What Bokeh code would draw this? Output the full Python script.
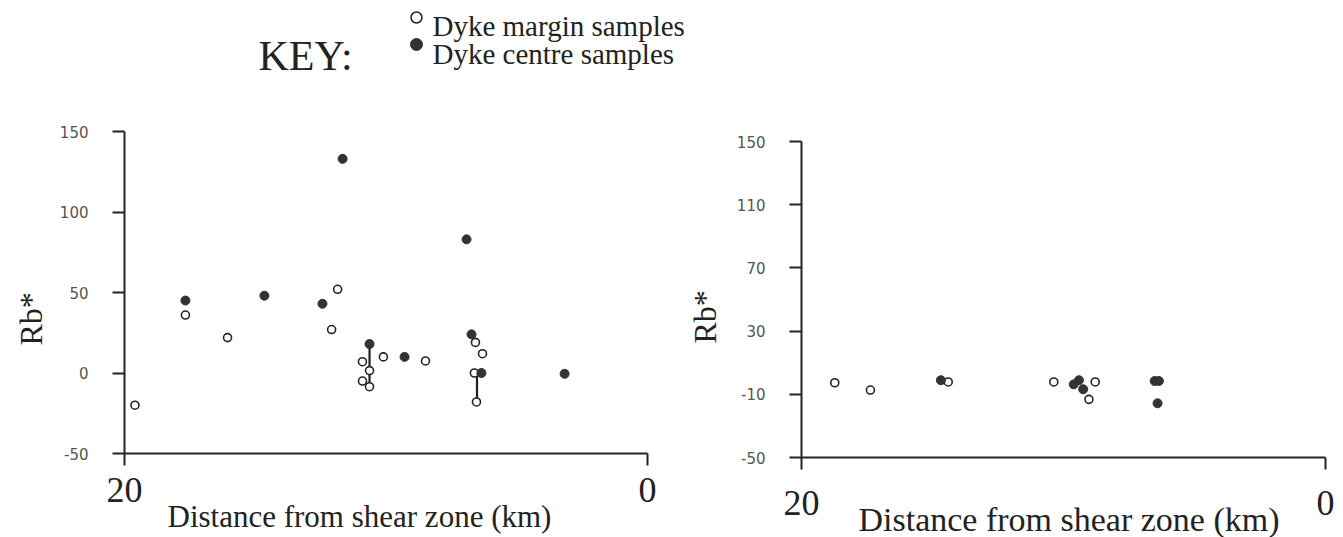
from bokeh.plotting import figure
from bokeh.models import Range1d, FixedTicker, Title
from bokeh.layouts import column, row
from bokeh.embed import file_html
from bokeh.resources import INLINE
from bokeh.core.properties import value

# ---------------- data ----------------
x_ticks = [20, 0]
left_y_ticks = [-50, 0, 50, 100, 150]
right_y_ticks = [-50, -10, 30, 70, 110, 150]

# left panel
left_margin_dist = [19.6, 17.67, 16.06, 11.85, 12.08, 10.90, 10.63, 10.90, 10.63, 10.10, 8.49, 6.58, 6.31, 6.62, 6.54]
left_margin_rb = [-20, 36, 22, 52, 27, 7, 1.5, -5, -8.5, 10, 7.5, 19, 12, 0, -18]
left_centre_dist = [17.67, 14.65, 12.43, 11.66, 10.63, 9.29, 6.92, 6.73, 6.35, 3.17]
left_centre_rb = [45, 48, 43, 133, 18, 10, 83, 24, 0, -0.5]
left_link_dist = [10.63, 6.52]
left_link_top = [18, 0]
left_link_bottom = [-8.5, -18]

# right panel
right_margin_dist = [18.73, 17.37, 14.40, 10.37, 8.79, 9.03]
right_margin_rb = [-2.7, -7.3, -2.2, -2.2, -2.2, -13.2]
right_centre_dist = [14.68, 9.61, 9.41, 9.25, 6.52, 6.36, 6.41]
right_centre_rb = [-1.1, -3.7, -1.1, -6.8, -1.6, -1.6, -15.7]

key_labels = ["Dyke margin samples", "Dyke centre samples"]
x_title = "Distance from shear zone (km)"
y_title = "Rb*"

INK = "#222222"
SERIF = "Liberation Serif"


def panel(width, borders, yticks, mdist, mrb, cdist, crb, links,
          xstandoff, xt_offset, xt_standoff, xt_size, rb_offset, rb_standoff):
    bl, br, bt, bb = borders
    p = figure(width=width, height=442, x_range=Range1d(20, 0), y_range=Range1d(-50, 150),
               output_backend="svg", toolbar_location=None,
               min_border_left=bl, min_border_right=br, min_border_top=bt, min_border_bottom=bb)
    p.title.visible = False
    p.outline_line_color = None
    p.grid.visible = False
    p.background_fill_color = "white"
    p.border_fill_color = "white"

    p.xaxis.ticker = FixedTicker(ticks=x_ticks)
    p.xaxis.major_label_text_font = SERIF
    p.xaxis.major_label_text_font_size = "36px"
    p.xaxis.major_label_text_color = INK
    p.xaxis.major_label_standoff = xstandoff
    p.yaxis.ticker = FixedTicker(ticks=yticks)
    p.yaxis.major_label_overrides = {t: str(t) for t in yticks}
    p.yaxis.major_label_text_font = "DejaVu Sans"
    p.yaxis.major_label_text_font_size = "15px"
    p.yaxis.major_label_text_color = "#555555"
    p.yaxis.major_label_standoff = 24
    for ax in (p.xaxis, p.yaxis):
        ax.axis_line_width = 2
        ax.axis_line_color = INK
        ax.major_tick_line_width = 2
        ax.major_tick_line_color = INK
        ax.major_tick_out = 12
        ax.major_tick_in = 0
        ax.minor_tick_line_color = None

    if links:
        ld, lt, lb = links
        p.segment(x0=ld, y0=lt, x1=ld, y1=lb, line_width=2.2, line_color=INK)
    p.scatter(x=mdist, y=mrb, marker="circle", size=8, fill_color="white",
              line_color=INK, line_width=1.6)
    p.scatter(x=cdist, y=crb, marker="circle", size=9, fill_color="#333333",
              line_color="#333333", line_width=1)

    p.add_layout(Title(text=x_title, align="left", offset=xt_offset, standoff=xt_standoff,
                       text_font=SERIF, text_font_size=xt_size, text_font_style="normal",
                       text_color=INK), "below")
    p.add_layout(Title(text=y_title, align="left", offset=rb_offset, standoff=rb_standoff,
                       text_font=SERIF, text_font_size="32px", text_font_style="normal",
                       text_color=INK), "left")
    return p


left = panel(670, (124, 23, 36, 84), left_y_ticks,
             left_margin_dist, left_margin_rb, left_centre_dist, left_centre_rb,
             (left_link_dist, left_link_top, left_link_bottom),
             12, 43, -15, "31px", 108, 16)
right = panel(673, (131, 18, 46, 80), right_y_ticks,
              right_margin_dist, right_margin_rb, right_centre_dist, right_centre_rb,
              None, 21, 57, -38, "34px", 114, 22)

# key
k = figure(width=1343, height=95, x_range=Range1d(0, 1343), y_range=Range1d(95, 0),
           output_backend="svg", toolbar_location=None, min_border=0,
           x_axis_type=None, y_axis_type=None)
k.title.visible = False
k.outline_line_color = None
k.grid.visible = False
k.text(x=[258], y=[55], text=["KEY:"], text_font=value(SERIF), text_font_size="42px",
       text_color=INK, text_baseline="alphabetic")
k.scatter(x=[416], y=[17], marker="circle", size=11, fill_color="white",
          line_color=INK, line_width=1.5)
k.scatter(x=[416], y=[44], marker="circle", size=12, fill_color="#333333",
          line_color="#333333")
k.text(x=[432, 432], y=[25, 53], text=key_labels, text_font=value(SERIF),
       text_font_size="29px", text_color=INK, text_baseline="alphabetic")

layout = column(k, row(column(left), column(right)))
open("out.html", "w").write(file_html(layout, INLINE))
